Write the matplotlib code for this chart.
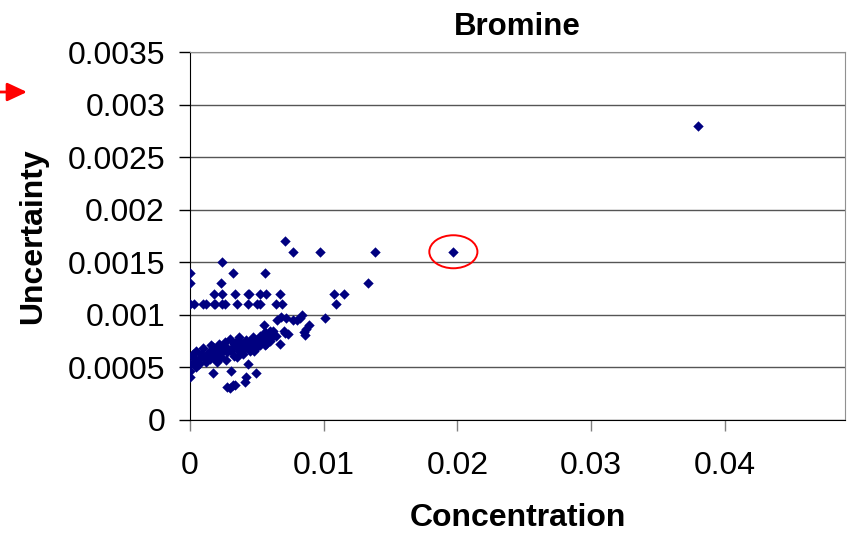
import matplotlib.pyplot as plt
from matplotlib.patches import Ellipse

plt.rcParams['font.family'] = ['Liberation Sans', 'DejaVu Sans']

marker_color = '#000080'
grid_color = '#555555'

# concentration / uncertainty pairs
conc = [
    # upper rows
    0.0071, 0.0077, 0.0097, 0.0138, 0.0024,
    0.0, 0.0032, 0.0056, 0.0, 0.0023, 0.0133,
    0.00176, 0.0024, 0.0034, 0.0043, 0.0044, 0.0052, 0.0057, 0.0067, 0.0108, 0.0115,
    0.0, 0.0003, 0.001, 0.0012, 0.0018, 0.0019, 0.0024, 0.0026, 0.0035, 0.0043,
    0.005, 0.0052, 0.0064, 0.0069, 0.0109,
    # main band
    0.0, 0.0, 0.0, 0.0002, 0.0002, 0.00045, 0.0006, 0.0007, 0.0008, 0.001,
    0.0011, 0.0012, 0.0015, 0.0016, 0.0017, 0.0017, 0.0018, 0.002, 0.0021, 0.0022,
    0.0023, 0.0025, 0.0026, 0.0027, 0.0028, 0.003, 0.003, 0.0031, 0.0031, 0.0032,
    0.0033, 0.0034, 0.0035, 0.0036, 0.0037, 0.0038, 0.004, 0.0041, 0.0042, 0.0043,
    0.0045, 0.0046, 0.0047, 0.0048, 0.0049, 0.0051, 0.0052, 0.0053, 0.0055, 0.0056,
    0.0057, 0.0058, 0.006, 0.0062, 0.0065, 0.0067, 0.0068, 0.007, 0.0071, 0.0072,
    0.0073, 0.0077, 0.008, 0.0082, 0.0084, 0.0085, 0.0086, 0.0087, 0.0089, 0.0101,
    0.0003, 0.00045, 0.0007, 0.001, 0.0013, 0.0015, 0.0017, 0.002, 0.0022, 0.0025,
    0.0027, 0.0028, 0.0032, 0.0033, 0.0036, 0.0037, 0.004, 0.0041, 0.0042, 0.0043,
    0.0045, 0.0046, 0.0048, 0.005, 0.0052, 0.0055, 0.0056, 0.0058, 0.006, 0.0061,
    0.0064,
    # isolated points
    0.0197, 0.038,
]
uncert = [
    0.0017, 0.0016, 0.0016, 0.0016, 0.0015,
    0.0014, 0.0014, 0.0014, 0.0013, 0.0013, 0.0013,
    0.0012, 0.0012, 0.0012, 0.0012, 0.0012, 0.0012, 0.0012, 0.0012, 0.0012, 0.0012,
    0.0011, 0.0011, 0.0011, 0.0011, 0.0011, 0.0011, 0.0011, 0.0011, 0.0011, 0.0011,
    0.0011, 0.0011, 0.0011, 0.0011, 0.0011,
    0.00041, 0.00047, 0.00053, 0.0006, 0.00063, 0.00066, 0.00057, 0.00053, 0.00063, 0.00068,
    0.0006, 0.00055, 0.00066, 0.00071, 0.00045, 0.0006, 0.00063, 0.00055, 0.00069, 0.00072,
    0.0006, 0.00066, 0.00074, 0.00057, 0.00031, 0.0003, 0.00077, 0.00066, 0.00047, 0.00033,
    0.00072, 0.00033, 0.0006, 0.00068, 0.00079, 0.00071, 0.00063, 0.00036, 0.00041, 0.00053,
    0.00075, 0.00069, 0.00079, 0.00066, 0.00045, 0.00072, 0.0008, 0.00075, 0.0009, 0.00071,
    0.00072, 0.00081, 0.00075, 0.00085, 0.00095, 0.00072, 0.00098, 0.00085, 0.00083, 0.00097,
    0.00082, 0.00095, 0.00095, 0.00097, 0.001, 0.00084, 0.00081, 0.00087, 0.0009, 0.00097,
    0.00055, 0.0005, 0.00058, 0.00061, 0.00063, 0.00058, 0.00069, 0.00065, 0.00061, 0.00071,
    0.00069, 0.00065, 0.00069, 0.00061, 0.00076, 0.00066, 0.00072, 0.00068, 0.00076, 0.00071,
    0.00066, 0.00074, 0.00077, 0.00069, 0.00071, 0.00079, 0.00084, 0.00077, 0.00085, 0.00079,
    0.0008,
    0.0016, 0.0028,
]

x_ticks = [0, 0.01, 0.02, 0.03, 0.04]
x_labels = ['0', '0.01', '0.02', '0.03', '0.04']
y_ticks = [0, 0.0005, 0.001, 0.0015, 0.002, 0.0025, 0.003, 0.0035]
y_labels = ['0', '0.0005', '0.001', '0.0015', '0.002', '0.0025', '0.003', '0.0035']

fig = plt.figure(figsize=(8.51, 5.35), dpi=100)
ax = fig.add_axes([0.2233, 0.215, 0.7697, 0.6878])

ax.scatter(conc, uncert, marker='D', s=28, color=marker_color, linewidths=0, zorder=3)

ax.set_xlim(0, 0.049)
ax.set_ylim(0, 0.0035)
ax.set_xticks(x_ticks)
ax.set_xticklabels(x_labels)
ax.set_yticks(y_ticks)
ax.set_yticklabels(y_labels)
ax.tick_params(axis='both', labelsize=23, direction='out')
ax.tick_params(axis='y', length=8, width=1, color='black', pad=10)
ax.tick_params(axis='x', length=8, width=1, color='#808080', pad=14)
ax.yaxis.grid(True, color=grid_color, linewidth=1)
ax.set_axisbelow(True)

for side in ('top', 'right'):
    ax.spines[side].set_color('#909090')
for side in ('left', 'bottom'):
    ax.spines[side].set_color('black')

ax.set_title('Bromine', fontsize=22.5, fontweight='bold', pad=12)
ax.set_xlabel('Concentration', fontsize=23, fontweight='bold', labelpad=16)
ax.set_ylabel('Uncertainty', fontsize=23, fontweight='bold', labelpad=14)

# red highlight around the point at 0.02
ax.add_patch(Ellipse((0.0197, 0.0016), 0.0036, 0.000314, fill=False,
                     edgecolor='red', linewidth=1.4, zorder=4))

# red arrow at the left edge
fig.add_artist(plt.Annotation('', xy=(27, 443), xytext=(0, 443),
                              xycoords='figure pixels', textcoords='figure pixels',
                              arrowprops=dict(arrowstyle='-|>,head_length=0.6,head_width=0.28',
                                              mutation_scale=20, color='red', lw=2,
                                              shrinkA=0, shrinkB=0)))

fig.savefig('out.png', dpi=100)
